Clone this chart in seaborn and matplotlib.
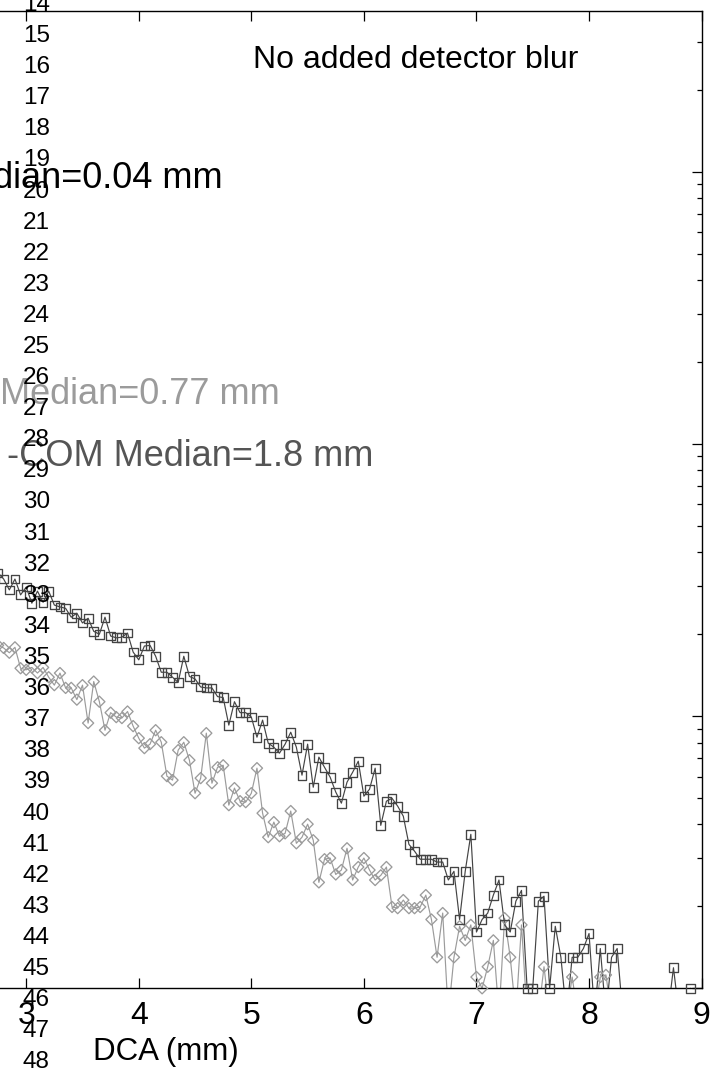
import numpy as np
import pandas as pd
import matplotlib
matplotlib.use("Agg")
import matplotlib.pyplot as plt
import seaborn as sns
from matplotlib.ticker import LogLocator, NullLocator, NullFormatter, FixedLocator

# ---------------- data ----------------
# DCA bin centres (mm), 0.05 mm bins
dca_bins = np.round(np.arange(2.70, 8.901, 0.05), 2)

# square-marker series (dark grey, "...-COM")
series_com = [
    33.0, 33.6, 31.9, 29.1, 31.9, 27.9, 29.8, 26.0, 28.8, 26.2,
    28.8, 25.6, 25.2, 24.9, 23.1, 23.9, 22.0, 22.9, 20.5, 20.0,
    23.1, 19.7, 19.4, 19.5, 20.2, 17.2, 16.1, 18.1, 18.2, 16.6,
    14.5, 14.5, 13.9, 13.3, 16.6, 14.0, 13.7, 12.8, 12.7, 12.7,
    11.8, 11.7, 9.27, 11.3, 10.3, 10.3, 9.92, 8.37, 9.67, 7.96,
    7.69, 7.31, 7.89, 8.73, 7.69, 6.07, 7.89, 5.48, 7.07, 6.49,
    5.97, 5.26, 4.79, 5.72, 6.22, 6.83, 5.08, 5.39, 6.44, 3.97,
    4.87, 4.99, 4.67, 4.29, 3.38, 3.19, 2.98, 2.98, 2.98, 2.91,
    2.91, 2.50, 2.69, 1.79, 2.69, 3.68, 1.61, 1.79, 1.89, 2.20,
    2.50, 1.71, 1.61, 2.09, 2.29, 1.0, 1.0, 2.09, 2.18, 1.0,
    1.69, 1.30, 0, 1.30, 1.30, 1.40, 1.59, 0, 1.40, 0,
    1.30, 1.40, 0, 0, 0, 0, 0, 0, 0, 0,
    0, 1.19, 0, 0, 1.0,
]

# diamond-marker series (light grey)
series_med = [
    18.5, 18.2, 17.8, 17.1, 17.9, 15.0, 14.8, 15.1, 14.4, 15.1,
    13.9, 13.0, 14.4, 12.7, 12.7, 11.5, 13.0, 9.43, 13.4, 11.3,
    8.88, 10.3, 9.92, 9.84, 10.4, 9.19, 8.30, 7.63, 7.89, 8.88,
    8.02, 6.02, 5.82, 7.50, 8.02, 6.89, 5.21, 5.92, 8.66, 5.67,
    6.49, 6.60, 4.71, 5.44, 4.87, 4.83, 5.21, 6.44, 4.40, 3.59,
    4.08, 3.62, 3.71, 4.48, 3.41, 3.59, 4.01, 3.50, 2.45, 2.98,
    3.01, 2.62, 2.72, 3.27, 2.50, 2.79, 3.01, 2.72, 2.50, 2.60,
    2.79, 1.99, 1.97, 2.11, 1.97, 1.97, 1.99, 2.20, 1.79, 1.30,
    1.89, 0, 1.30, 1.69, 1.50, 1.71, 1.10, 1.0, 1.20, 1.50,
    0, 1.81, 1.30, 0, 1.71, 0, 0, 0, 1.20, 0,
    0, 0, 0, 1.10, 0, 0, 0, 0, 1.10, 1.12,
    0, 0, 0, 0, 0, 0, 0, 0, 0, 0,
    0, 0, 0, 0, 0,
]

median_labels = ["Median=0.04 mm", "Median=0.77 mm", "-COM Median=1.8 mm"]
panel_title = "No added detector blur"
x_label = "DCA (mm)"
x_ticks = [0, 1, 2, 3, 4, 5, 6, 7, 8, 9]
line_numbers = list(range(14, 49))

# ---------------- style ----------------
sns.set_theme(style="white")
plt.rcParams["font.family"] = ["Liberation Sans", "DejaVu Sans"]

W, H = 715, 1070
fig = plt.figure(figsize=(W / 100, H / 100), dpi=100)

def fx(px):
    return px / W

def fy(py):
    return 1 - py / H

ax_left_px, ax_right_px = -311.5, 701.6
ax_top_px, ax_bot_px = 11.0, 988.3
ax = fig.add_axes([fx(ax_left_px), fy(ax_bot_px),
                   (ax_right_px - ax_left_px) / W, (ax_bot_px - ax_top_px) / H])
ax.set_facecolor("white")

df = pd.DataFrame({"dca": dca_bins, "com": series_com, "med": series_med})
FLOOR = 0.8  # empty bins drawn just below the axis floor
for col, color, marker, msize in [("med", "#9b9b9b", "D", 32), ("com", "#444444", "s", 40)]:
    line_y = df[col].where(df[col] > 0, FLOOR)
    sns.lineplot(x=df["dca"], y=line_y, color=color, lw=0.85, ax=ax,
                 estimator=None, sort=False, zorder=2)
    vis = df[df[col] >= 1.0]
    sns.scatterplot(x=vis["dca"], y=vis[col], marker=marker, s=msize,
                    facecolor="none", edgecolor=color, linewidth=0.95,
                    ax=ax, clip_on=False, zorder=3)

ax.set_yscale("log")
ax.set_xlim(0, 9)
ax.set_ylim(1, 3900)

for sp in ax.spines.values():
    sp.set_visible(True)
    sp.set_color("black")
    sp.set_linewidth(1.0)

ax.xaxis.set_major_locator(FixedLocator(x_ticks))
ax.xaxis.set_minor_locator(NullLocator())
ax.yaxis.set_major_locator(LogLocator(base=10))
ax.yaxis.set_minor_locator(LogLocator(base=10, subs=np.arange(2, 10)))
ax.yaxis.set_minor_formatter(NullFormatter())
ax.tick_params(which="both", direction="in", top=True, right=True,
               left=True, bottom=True, labelleft=False, color="black", width=0.9)
ax.tick_params(which="major", length=7.5)
ax.tick_params(which="minor", length=3.6)
ax.tick_params(axis="x", labelsize=23, pad=9.5, labelcolor="black")
ax.grid(False)

ax.set_xlabel(x_label, fontsize=22.5, color="black")
ax.xaxis.set_label_coords((166 - ax_left_px) / (ax_right_px - ax_left_px),
                          (ax_bot_px - 1037) / (ax_bot_px - ax_top_px))
ax.set_ylabel("")

# annotations
fig.text(fx(253), fy(68), panel_title, fontsize=23, ha="left", va="baseline", color="black")
fig.text(fx(223), fy(188), median_labels[0], fontsize=26, ha="right", va="baseline", color="black")
fig.text(fx(280), fy(404), median_labels[1], fontsize=26, ha="right", va="baseline", color="#9b9b9b")
fig.text(fx(373), fy(466), median_labels[2], fontsize=26, ha="right", va="baseline", color="#555555")

# overlaid line numbers down the left edge
for n in line_numbers:
    fig.text(fx(23), fy(42 + (n - 15) * 31.1), str(n), fontsize=17.5,
             ha="left", va="baseline", color="black")

fig.savefig("out.png", dpi=100, facecolor="white")
